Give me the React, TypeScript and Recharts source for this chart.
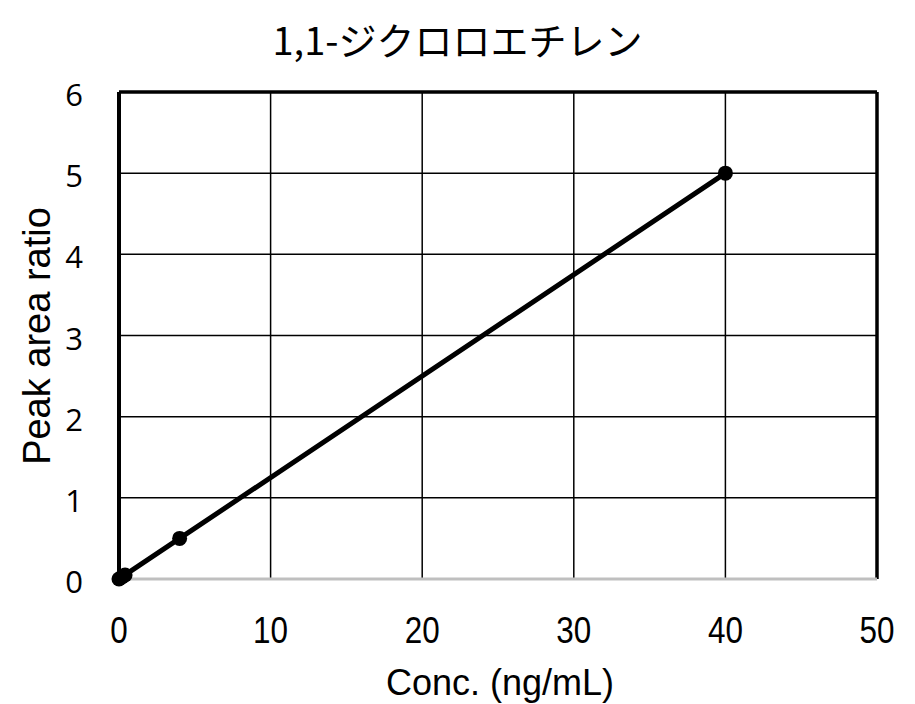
import { LineChart, Line, XAxis, YAxis, CartesianGrid, ReferenceLine } from 'recharts'

const TITLE = '1,1-ジクロロエチレン'
const X_LABEL = 'Conc. (ng/mL)'
const Y_LABEL = 'Peak area ratio'

const conc = [0, 0.2, 0.4, 4, 40]
const ratio = [0, 0.025, 0.05, 0.5, 5]
const xTicks = [0, 10, 20, 30, 40, 50]
const yTicks = [0, 1, 2, 3, 4, 5, 6]

const data = conc.map((c, i) => ({ conc: c, ratio: ratio[i] }))

const XTick = (props: any) => {
  const { x, y, payload } = props
  return (
    <text
      x={x}
      y={y + 62}
      textAnchor="middle"
      fill="#000"
      fontSize={37}
      fontFamily='"Liberation Sans", Arial, sans-serif'
      transform={`translate(${x} 0) scale(0.85 1) translate(${-x} 0)`}
    >
      {payload.value}
    </text>
  )
}

const YTick = (props: any) => {
  const { x, y, payload } = props
  return (
    <text
      x={x - 34}
      y={y + 14}
      textAnchor="end"
      fill="#000"
      fontSize={31}
      fontFamily='"Open Sans", sans-serif'
    >
      {payload.value}
    </text>
  )
}

export default function App() {
  return (
    <div style={{ position: 'absolute', left: 0, top: 0, width: 915, height: 704, background: '#fff' }}>
      <div
        style={{
          position: 'absolute', left: 0, top: 11, width: 915, textAlign: 'center',
          fontFamily: '"Noto Sans CJK JP", sans-serif', fontSize: 38, color: '#000',
        }}
      >
        {TITLE}
      </div>
      <div
        style={{
          position: 'absolute', left: 300, top: 662, width: 400, textAlign: 'center', whiteSpace: 'nowrap',
          fontFamily: '"Liberation Sans", Arial, sans-serif', fontSize: 36, color: '#000',
        }}
      >
        {X_LABEL}
      </div>
      <div
        style={{
          position: 'absolute', left: 37, top: 336, transform: 'translate(-50%, -50%) rotate(-90deg)',
          whiteSpace: 'nowrap', fontFamily: '"Liberation Sans", Arial, sans-serif', fontSize: 38, color: '#000',
        }}
      >
        {Y_LABEL}
      </div>
      <LineChart
        width={915}
        height={704}
        data={data}
        margin={{ top: 92, right: 38, bottom: 75, left: 59 }}
        style={{ position: 'absolute', left: 0, top: 0 }}
      >
        <CartesianGrid stroke="#000" strokeWidth={1.5} horizontalValues={yTicks} verticalValues={xTicks} />
        <XAxis
          type="number"
          dataKey="conc"
          domain={[0, 50]}
          ticks={xTicks}
          height={50}
          tickSize={0}
          tickLine={false}
          axisLine={{ stroke: '#bfbfbf', strokeWidth: 3 }}
          tick={<XTick />}
        />
        <YAxis
          type="number"
          dataKey="ratio"
          domain={[0, 6]}
          ticks={yTicks}
          width={60}
          tickSize={0}
          tickLine={false}
          axisLine={{ stroke: '#000', strokeWidth: 4 }}
          tick={<YTick />}
        />
        <ReferenceLine y={6} stroke="#000" strokeWidth={3.5} />
        <ReferenceLine x={50} stroke="#000" strokeWidth={3.5} />
        <Line
          type="linear"
          dataKey="ratio"
          stroke="#000"
          strokeWidth={5}
          dot={{ r: 7.5, fill: '#000', stroke: '#000', strokeWidth: 0 }}
          isAnimationActive={false}
        />
      </LineChart>
    </div>
  )
}
